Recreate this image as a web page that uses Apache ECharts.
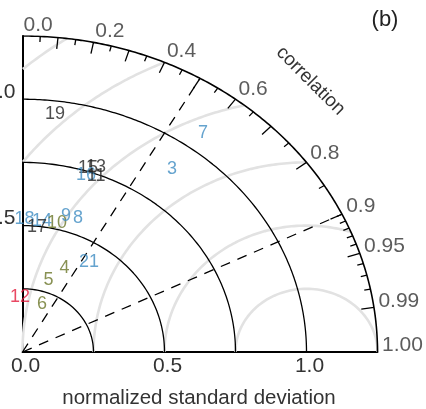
<!DOCTYPE html>
<html><head><meta charset="utf-8">
<script src="https://cdn.jsdelivr.net/npm/echarts@6/dist/echarts.min.js"></script>
<style>html,body{margin:0;padding:0;background:#fff}#c{width:426px;height:409px}</style>
</head><body><div id="c"></div>
<script>
// ---- data (normalized std dev, correlation) ----
const pointIds = ['19','7','3','15','13','16','11','18','14','17','10','9','8','21','4','5','12','6'];
const stdDev   = [0.948,1.074,0.895,0.763,0.776,0.735,0.742,0.528,0.522,0.497,0.524,0.559,0.565,0.426,0.364,0.299,0.218,0.202];
const corrVal  = [0.121,0.592,0.588,0.302,0.334,0.304,0.349,0.013,0.132,0.103,0.232,0.274,0.346,0.550,0.407,0.306,-0.040,0.340];
const groupOf  = ['k','b','b','k','k','b','k','b','b','k','o','b','b','b','o','o','r','o'];
const groupColor = {k:'#222222', b:'#3f8cc2', o:'#6a7628', r:'#e31a3c'};

// ---- axes / reference geometry values ----
const stdMax = 1.25;
const stdArcs = [0.25, 0.5, 0.75, 1.0];
const stdTicks = [0, 0.5, 1.0];
const yTicks = [0.5, 1.0];
const rmsRadii = [0.25, 0.5, 0.75, 1.0, 1.25, 1.5];
const refStd = 1.0;
const dashedCorr = [0.5, 0.9];
const corrLabelVals = [0, 0.2, 0.4, 0.6, 0.8, 0.9, 0.95, 0.99, 1.0];
const corrLabelText = ['0.0','0.2','0.4','0.6','0.8','0.9','0.95','0.99','1.00'];
const corrMajor = [0.1,0.2,0.3,0.4,0.5,0.6,0.7,0.8,0.9,0.95,0.99];
const corrMinor = [0.05,0.15,0.25,0.35,0.45,0.55,0.65,0.75,0.85,0.91,0.92,0.93,0.94,0.96,0.97,0.98];

const FONT = 'Liberation Sans, Arial, Helvetica, sans-serif';
const TXT = '#333333';
function toXY(s, c) { return [s * c, s * Math.sqrt(Math.max(0, 1 - c * c))]; }

function arcData(r) {
  const d = [];
  for (let i = 0; i <= 180; i++) { const a = Math.PI / 2 * i / 180; d.push([r * Math.cos(a), r * Math.sin(a)]); }
  return d;
}
function rmsData(r) {
  const d = [];
  for (let i = 0; i <= 720; i++) {
    const a = Math.PI * i / 720;
    const x = refStd + r * Math.cos(a), y = r * Math.sin(a);
    if (x >= 0 && x * x + y * y <= stdMax * stdMax + 1e-9) d.push([x, y]); else d.push([null, null]);
  }
  return d;
}

const series = [];
rmsRadii.forEach(r => series.push({type:'line', data: rmsData(r), showSymbol:false, connectNulls:false, silent:true,
  lineStyle:{color:'#e2e2e2', width:2.6}, z:1}));
stdArcs.forEach(r => series.push({type:'line', data: arcData(r), showSymbol:false, silent:true,
  lineStyle:{color:'#000', width:1.3}, z:2}));
series.push({type:'line', data: arcData(stdMax), showSymbol:false, silent:true, lineStyle:{color:'#000', width:1.6}, z:3});

dashedCorr.forEach(c => series.push({type:'line', data:[[0,0], toXY(stdMax, c)], showSymbol:false, silent:true, z:3,
  lineStyle:{color:'#000', width:1.3, type:[10,8]}}));
series.push({type:'lines', coordinateSystem:'cartesian2d', silent:true, z:3,
  lineStyle:{color:'#000', width:1.3, opacity:1},
  data: corrMajor.map(c => ({coords:[toXY(stdMax, c), toXY(stdMax - 0.045, c)]}))
    .concat(corrMinor.map(c => ({coords:[toXY(stdMax, c), toXY(stdMax - 0.022, c)]})))});
series.push({type:'scatter', symbolSize:0, clip:false, silent:true, z:4,
  data: corrLabelVals.map((c, i) => ({value: toXY(stdMax, c).concat([corrLabelText[i]]),
    label:{offset:[1 + 3.5 * c, -11 + 4.5 * Math.pow(c, 4)]}})),
  label:{show:true, position:'inside', align:'left', verticalAlign:'middle', formatter: p => p.value[2],
    fontSize:21, color:TXT, fontFamily:FONT}});
series.push({type:'scatter', symbolSize:0, clip:false, silent:true, z:5,
  data: pointIds.map((id, i) => ({value: toXY(stdDev[i], corrVal[i]).concat([id]),
    label:{color: groupColor[groupOf[i]]}})),
  label:{show:true, position:'inside', align:'center', verticalAlign:'middle', formatter: p => p.value[2],
    fontSize:18, fontFamily:FONT}});

const chart = echarts.init(document.getElementById('c'), null, {renderer:'canvas'});
chart.setOption({
  animation:false,
  backgroundColor:'#fff',
  grid:{left:22.5, top:36, width:355, height:316, containLabel:false, outerBoundsMode:'none'},
  xAxis:{type:'value', min:0, max:stdMax,
    axisLine:{show:true, onZero:false, lineStyle:{color:'#000', width:2}},
    axisTick:{show:false}, splitLine:{show:false},
    axisLabel:{customValues: stdTicks, formatter: v => v.toFixed(1), fontSize:21, color:TXT, fontFamily:FONT, margin:4,
      padding:[0,0,0,6], hideOverlap:false}},
  yAxis:{type:'value', min:0, max:stdMax,
    axisLine:{show:true, onZero:false, lineStyle:{color:'#000', width:2}},
    axisTick:{show:false}, splitLine:{show:false},
    axisLabel:{customValues: yTicks, formatter: v => v.toFixed(1), fontSize:21, color:TXT, fontFamily:FONT, margin:7,
      verticalAlign:'bottom', lineHeight:14, hideOverlap:false}},
  graphic:[
    {type:'text', x:199, y:398, style:{text:'normalized standard deviation', fontSize:20.5, fill:TXT, fontFamily:FONT,
      align:'center', verticalAlign:'middle'}},
    {type:'text', x:310.5, y:81, rotation:-Math.PI/4, style:{text:'correlation', fontSize:19, fill:TXT, fontFamily:FONT,
      align:'center', verticalAlign:'middle'}},
    {type:'text', x:385, y:20, style:{text:'(b)', fontSize:22, fill:'#222', fontFamily:FONT, align:'center', verticalAlign:'middle'}}
  ],
  series: series
});
</script></body></html>
